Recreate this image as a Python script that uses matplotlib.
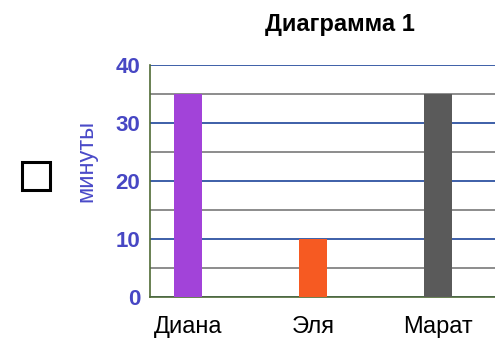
import matplotlib.pyplot as plt
from matplotlib.patches import Rectangle

names = ["Диана", "Эля", "Марат"]
minutes = [35, 10, 35]
colors = ["#a243d9", "#f65a22", "#5a5a5a"]
yticks = [0, 10, 20, 30, 40]

plt.rcParams['font.family'] = ['Liberation Sans', 'DejaVu Sans']

fig = plt.figure(figsize=(4.95, 3.39), dpi=100)
ax = fig.add_axes([150 / 495, 1 - 297 / 339, 1 - 150 / 495, (297 - 65) / 339])

x = list(range(len(names)))
ax.bar(x, minutes, width=0.23, color=colors, zorder=3)

ax.set_xlim(-0.304, 2.456)
ax.set_ylim(0, 40)
ax.set_yticks(yticks)
ax.set_yticks([5, 15, 25, 35], minor=True)
ax.set_xticks(x)
ax.set_xticklabels(names, fontsize=17, color="black")
ax.set_yticklabels([str(v) for v in yticks], fontsize=16, fontweight="bold", color="#4747c4")
ax.tick_params(axis="both", which="both", length=0)
ax.tick_params(axis="x", pad=14)
ax.tick_params(axis="y", pad=7)

ax.grid(axis="y", which="major", color="#3d5fa8", linewidth=1.4, zorder=1)
ax.grid(axis="y", which="minor", color="#8c8c8c", linewidth=1.4, zorder=1)
ax.set_axisbelow(True)

for s in ["top", "right"]:
    ax.spines[s].set_visible(False)
ax.spines["left"].set_color("#4f6b35")
ax.spines["bottom"].set_color("#4f6b35")
ax.spines["left"].set_linewidth(1.2)
ax.spines["bottom"].set_linewidth(1.2)

ax.set_ylabel("минуты", fontsize=17, color="#4a4ac8", va="center")
ax.yaxis.set_label_coords(-64 / 345, (297 - 161) / 232)

fig.text(340 / 495, 1 - 24 / 339, "Диаграмма 1", ha="center", va="center",
         fontsize=17, fontweight="bold", color="black")

fig.patches.append(Rectangle((22 / 495, 1 - 190 / 339), 28 / 495, 28 / 339,
                             transform=fig.transFigure, fill=False,
                             edgecolor="black", linewidth=2.2))

fig.savefig("out.png", dpi=100)
